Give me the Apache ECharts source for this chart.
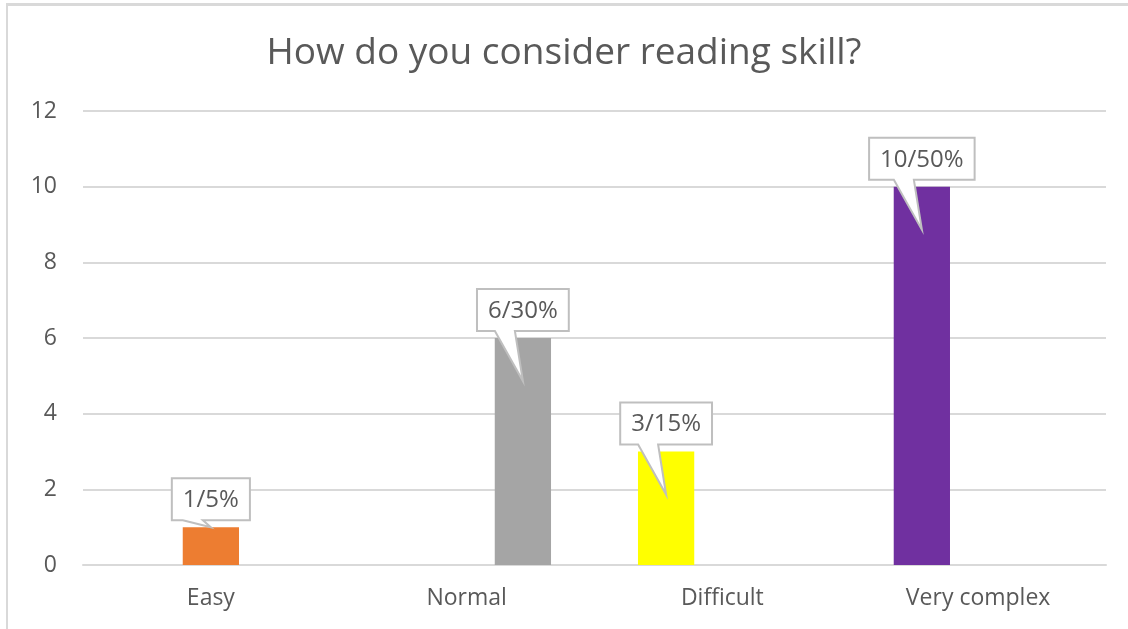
<!DOCTYPE html>
<html>
<head>
<meta charset="utf-8">
<script src="https://cdn.jsdelivr.net/npm/echarts@6/dist/echarts.min.js"></script>
<style>
  html, body { margin: 0; padding: 0; background: #fff; }
  #wrap { position: relative; width: 1128px; height: 629px; overflow: hidden; }
  #chart { position: absolute; left: 0; top: 0; width: 1128px; height: 629px; }
  #frame { position: absolute; left: 6px; top: 3px; width: 1200px; height: 700px;
           border-top: 3px solid #d9d9d9; border-left: 2px solid #d9d9d9; pointer-events: none; }
</style>
</head>
<body>
<div id="wrap">
  <div id="chart"></div>
  <div id="frame"></div>
</div>
<script>
// ---- data ----
const titleText = 'How do you consider reading skill?';
const categories = ['Easy', 'Normal', 'Difficult', 'Very complex'];
const counts = [1, 6, 3, 10];
const percents = [5, 30, 15, 50];
const slots = [1, 2, 0, 0];           // cluster position of each bar (Excel series slot)
const colors = ['#ED7D31', '#A5A5A5', '#FFFF00', '#7030A0'];
const yTicks = { min: 0, max: 12, interval: 2 };

// ---- styles ----
const FONT = 'Open Sans';
const TEXT_COLOR = '#595959';
const GRID_COLOR = '#d9d9d9';
const SLOT_COUNT = 3;
const BAR_FRAC = 0.22;
const LABEL_FONT = 24;
const AXIS_FONT = 23;

const barSeries = [];
for (let s = 0; s < SLOT_COUNT; s++) {
  barSeries.push({
    type: 'bar',
    barWidth: (BAR_FRAC * 100) + '%',
    barGap: '0%',
    data: categories.map((c, i) => slots[i] === s
      ? { value: counts[i], itemStyle: { color: colors[i] } }
      : '-'),
    animation: false,
    z: 2
  });
}

const measureCtx = document.createElement('canvas').getContext('2d');
measureCtx.font = LABEL_FONT + 'px "' + FONT + '"';

const calloutData = categories.map((c, i) => [i, counts[i], slots[i], counts[i] + '/' + percents[i] + '%']);

const calloutSeries = {
  type: 'custom',
  coordinateSystem: 'cartesian2d',
  encode: { x: 0, y: 1 },
  data: calloutData,
  z: 10,
  clip: false,
  animation: false,
  silent: true,
  renderItem: function (params, api) {
    const idx = api.value(0);
    const val = api.value(1);
    const slot = api.value(2);
    const label = calloutData[params.dataIndex][3];
    const top = api.coord([idx, val]);
    const base = api.coord([idx, 0]);
    const band = api.size([1, 0])[0];
    const bw = band * BAR_FRAC;
    const cx = top[0] + (slot - (SLOT_COUNT - 1) / 2) * bw;
    const barTop = top[1];
    const barH = base[1] - barTop;
    const tw = measureCtx.measureText(label).width;
    const boxW = tw + 22;
    const boxH = 42;
    const boxBottom = barTop - 7;
    const boxTop = boxBottom - boxH;
    const left = cx - boxW / 2, right = cx + boxW / 2;
    const tipY = barH > 100 ? barTop + 43 : barTop;
    const tb1 = cx - 28, tb2 = cx - 8;
    const pts = [
      [left, boxTop], [right, boxTop], [right, boxBottom],
      [tb2, boxBottom], [cx, tipY], [tb1, boxBottom],
      [left, boxBottom]
    ];
    return {
      type: 'group',
      children: [
        { type: 'polygon', shape: { points: pts },
          style: { fill: '#ffffff', stroke: '#bfbfbf', lineWidth: 2 } },
        { type: 'text', x: cx, y: boxTop + boxH / 2 + 1,
          style: { text: label, fill: TEXT_COLOR, font: LABEL_FONT + 'px "' + FONT + '"',
                   align: 'center', verticalAlign: 'middle' } }
      ]
    };
  }
};

const chart = echarts.init(document.getElementById('chart'), null, { renderer: 'canvas' });
chart.setOption({
  backgroundColor: 'transparent',
  animation: false,
  title: {
    text: titleText,
    left: 'center',
    top: 30,
    textStyle: { fontFamily: FONT, fontSize: 37, fontWeight: 'normal', color: TEXT_COLOR }
  },
  grid: { left: 83, right: 22, top: 111, bottom: 64, containLabel: false },
  xAxis: {
    type: 'category',
    data: categories,
    axisLine: { show: true, lineStyle: { color: GRID_COLOR, width: 2 } },
    axisTick: { show: false },
    axisLabel: { color: TEXT_COLOR, fontFamily: FONT, fontSize: AXIS_FONT, margin: 22 }
  },
  yAxis: {
    type: 'value',
    min: yTicks.min, max: yTicks.max, interval: yTicks.interval,
    axisLine: { show: false },
    axisTick: { show: false },
    splitLine: { lineStyle: { color: GRID_COLOR, width: 2 } },
    axisLabel: { color: TEXT_COLOR, fontFamily: FONT, fontSize: AXIS_FONT, margin: 26 }
  },
  series: barSeries.concat([calloutSeries])
});
</script>
</body>
</html>
